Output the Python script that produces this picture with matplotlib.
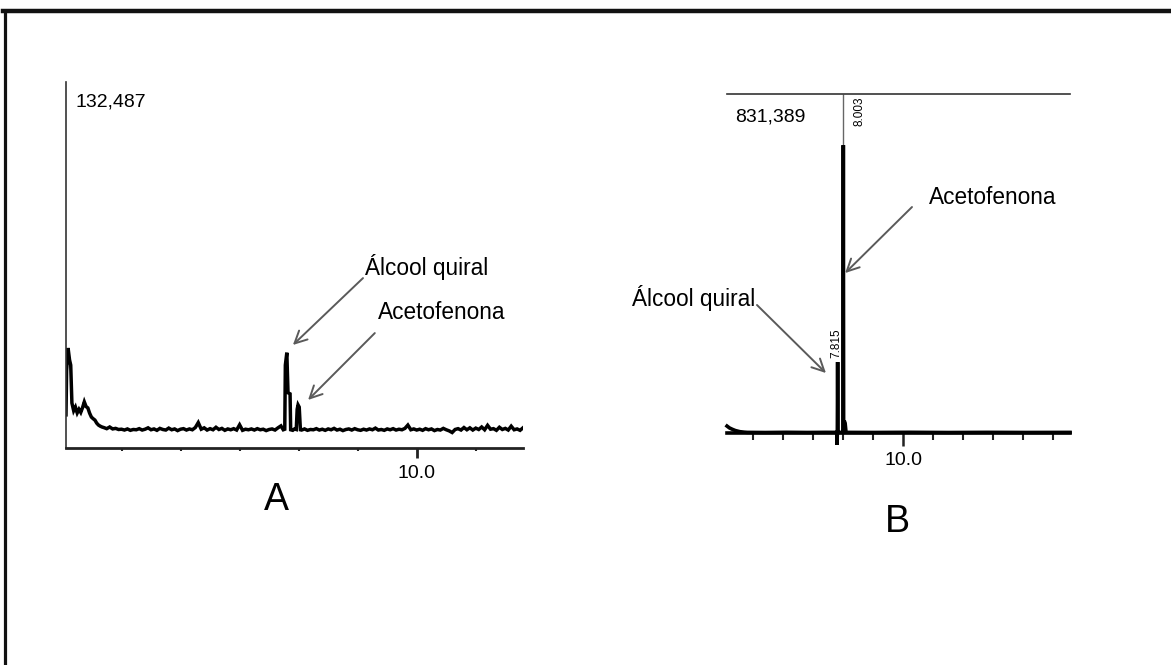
import numpy as np
import matplotlib
matplotlib.use("Agg")
import matplotlib.pyplot as plt
from matplotlib.lines import Line2D

plt.rcParams['font.family'] = ['Liberation Sans', 'DejaVu Sans']

# ---- chromatogram A (retention time in min, intensity in counts) ----
a_full_scale = 132487
a_xlim = (4.06, 11.80)

# solvent front
a_t_start = [4.06, 4.07, 4.095, 4.12, 4.14, 4.16, 4.19, 4.22, 4.25, 4.28, 4.31, 4.34,
             4.37, 4.40, 4.43, 4.46, 4.49, 4.52, 4.55, 4.58, 4.61, 4.64, 4.67]
a_y_start = [12000, 28000, 36200, 31900, 30000, 16300, 13500, 14800, 12700, 14000, 12900, 14600,
             16700, 15000, 14500, 12600, 11200, 10600, 10100, 9000, 8300, 7900, 7600]

# baseline 4.70 - 7.70 min, every 0.05 min
a_base1 = [7400, 7000, 7600, 6900, 7100, 6700, 6800, 6500, 6900, 6400,
           6700, 6600, 7000, 6500, 6800, 7300, 6600, 6900, 6400, 7100,
           6700, 6500, 7200, 6600, 6900, 6300, 6800, 7000, 6500, 6900,
           6600, 7400, 9200, 6800, 7300, 6500, 7000, 6600, 7500, 6700,
           7100, 6400, 6900, 6600, 7000, 6500, 8400, 6400, 6800, 6600,
           6900, 6500, 7000, 6600, 6800, 6300, 6700, 6900, 6500, 7300,
           8000]

# chiral alcohol + acetophenone peaks
a_t_peaks = [7.74, 7.765, 7.775, 7.80, 7.82, 7.855, 7.865, 7.90, 7.93, 7.96, 7.975, 7.99, 8.01, 8.03]
a_y_peaks = [6600, 6800, 30000, 34500, 20000, 19600, 6600, 6400, 6900, 6700, 14000, 15600, 14800, 6600]

# baseline 8.05 - 11.80 min, every 0.05 min
a_base2 = [6500, 6900, 6400, 6700, 6600, 7000, 6500, 6800, 6400, 6900,
           6600, 7100, 6500, 6800, 6300, 6700, 6900, 6500, 7000, 6600,
           6400, 6800, 6500, 6900, 6600, 7200, 6500, 6700, 6400, 6900,
           6600, 7000, 6500, 6800, 6600, 7100, 8300, 6600, 6900, 6500,
           6800, 6400, 7000, 6600, 6900, 6300, 6700, 6500, 7100, 6600,
           6200, 5600, 6700, 7000, 6500, 7400, 6600, 7300, 6500, 7200,
           6700, 7600, 6600, 8200, 6800, 7000, 6400, 7500, 6700, 7100,
           6500, 7900, 6600, 6900, 6400, 7300]

a_minor_ticks = [5, 6, 7, 8, 9, 11]
a_major_ticks = [10]
a_major_labels = ['10.0']

# ---- chromatogram B ----
b_full_scale = 831389
b_xlim = (4.12, 15.56)

b_t = [4.12, 4.20, 4.30, 4.40, 4.55, 4.70, 4.80, 5.40, 6.10, 6.80, 7.40, 7.78,
       7.79, 7.80, 7.81, 7.82, 7.99, 8.00, 8.01, 8.03, 8.06, 8.09,
       9.00, 10.20, 11.50, 12.80, 14.10, 15.56]
b_y = [17000, 12500, 9000, 6000, 3200, 2000, 1500, 1200, 1700, 1300, 1600, 1500,
       -29000, 1500, 174000, 1500, 1500, 706000, 1500, 30000, 24000, 1500,
       1300, 1700, 1200, 1600, 1300, 1500]
b_apex_time = 8.003
b_peak_labels = [(7.815, 174000, '7.815'), (8.003, b_full_scale, '8.003')]

b_minor_ticks = [5, 6, 7, 8, 9, 11, 12, 13, 14, 15]
b_major_ticks = [10]
b_major_labels = ['10.0']

W, H = 1171, 665
fig = plt.figure(figsize=(W / 100, H / 100), dpi=100)
fig.patch.set_facecolor('white')


def px_axes(left, top, right, bottom):
    return fig.add_axes([left / W, 1 - bottom / H, (right - left) / W, (bottom - top) / H])


# outer frame (left and top edges)
fig.add_artist(Line2D([4.5 / W, 4.5 / W], [0, 1 - 11 / H], color='#111111', lw=2.3))
fig.add_artist(Line2D([3.5 / W, 1], [1 - 11 / H, 1 - 11 / H], color='#111111', lw=3.2))

arrow_kw = dict(arrowstyle='->', color='#5a5a5a', lw=1.4, mutation_scale=22, shrinkA=0, shrinkB=0)
label_size = 16.3
scale_size = 14

# ---------------- panel A ----------------
ax1 = px_axes(66, 82, 523, 448)
a_t_base1 = np.round(np.arange(len(a_base1)) * 0.05 + 4.70, 3)
a_t_base2 = np.round(np.arange(len(a_base2)) * 0.05 + 8.05, 3)
a_t = np.concatenate([a_t_start, a_t_base1, a_t_peaks, a_t_base2])
a_y = np.concatenate([a_y_start, a_base1, a_y_peaks, a_base2])
ax1.plot(a_t, a_y, color='black', lw=2.5, solid_joinstyle='miter')
ax1.set_xlim(*a_xlim)
ax1.set_ylim(0, a_full_scale)
for s in ['top', 'right']:
    ax1.spines[s].set_visible(False)
ax1.spines['left'].set_color('#333333')
ax1.spines['left'].set_linewidth(1.2)
ax1.spines['bottom'].set_color('#222222')
ax1.spines['bottom'].set_linewidth(2.0)
ax1.set_yticks([])
ax1.set_xticks(a_major_ticks)
ax1.set_xticklabels(a_major_labels)
ax1.set_xticks(a_minor_ticks, minor=True)
ax1.tick_params(axis='x', which='major', length=7, width=2, color='#222222',
                labelsize=scale_size, pad=5)
ax1.tick_params(axis='x', which='minor', length=2.5, width=1.5, color='#222222')
ax1.text(0.02, 0.945, f'{a_full_scale:,}', transform=ax1.transAxes,
         fontsize=scale_size, va='center', ha='left')

ax1.annotate('', xy=(7.903, 37300), xytext=(9.09, 61500), arrowprops=arrow_kw)
ax1.text(9.125, 65500, 'Álcool quiral', fontsize=label_size, va='center', ha='left')
ax1.annotate('', xy=(8.16, 17400), xytext=(9.29, 41600), arrowprops=arrow_kw)
ax1.text(9.34, 49200, 'Acetofenona', fontsize=label_size, va='center', ha='left')

# ---------------- panel B ----------------
ax2 = px_axes(727, 94, 1070, 433)
ax2.vlines(b_apex_time, 0, b_full_scale, color='#666666', lw=1.0)
ax2.plot(b_t, b_y, color='black', lw=2.6, clip_on=False, solid_joinstyle='miter')
ax2.set_xlim(*b_xlim)
ax2.set_ylim(0, b_full_scale)
for s in ['left', 'right']:
    ax2.spines[s].set_visible(False)
ax2.spines['top'].set_color('#333333')
ax2.spines['top'].set_linewidth(1.2)
ax2.spines['bottom'].set_color('black')
ax2.spines['bottom'].set_linewidth(2.6)
ax2.set_yticks([])
ax2.set_xticks(b_major_ticks)
ax2.set_xticklabels(b_major_labels)
ax2.set_xticks(b_minor_ticks, minor=True)
ax2.tick_params(axis='x', which='major', length=9, width=1.8, color='#222222',
                labelsize=scale_size, pad=5)
ax2.tick_params(axis='x', which='minor', length=5, width=1.5, color='#222222')
ax2.text(0.023, 0.932, f'{b_full_scale:,}', transform=ax2.transAxes,
         fontsize=scale_size, va='center', ha='left')

t0, y0, s0 = b_peak_labels[0]
ax2.text(t0 - 0.06, y0 + 10000, s0, rotation=90, fontsize=8.5, ha='center', va='bottom')
t1, y1, s1 = b_peak_labels[1]
ax2.text(t1 + 0.55, y1 - 5000, s1, rotation=90, fontsize=8.5, ha='center', va='top')

ax2.annotate('', xy=(7.42, 147100), xytext=(5.12, 313900), arrowprops=arrow_kw,
             annotation_clip=False)
ax2.text(5.06, 331000, 'Álcool quiral', fontsize=label_size, va='center', ha='right', clip_on=False)
ax2.annotate('', xy=(8.06, 392300), xytext=(10.29, 554200), arrowprops=arrow_kw)
ax2.text(10.86, 578700, 'Acetofenona', fontsize=label_size, va='center', ha='left')

# panel letters
fig.text(276 / W, 1 - 500 / H, 'A', fontsize=27, ha='center', va='center')
fig.text(897 / W, 1 - 522 / H, 'B', fontsize=27, ha='center', va='center')

fig.savefig('out.png', dpi=100, facecolor='white')
